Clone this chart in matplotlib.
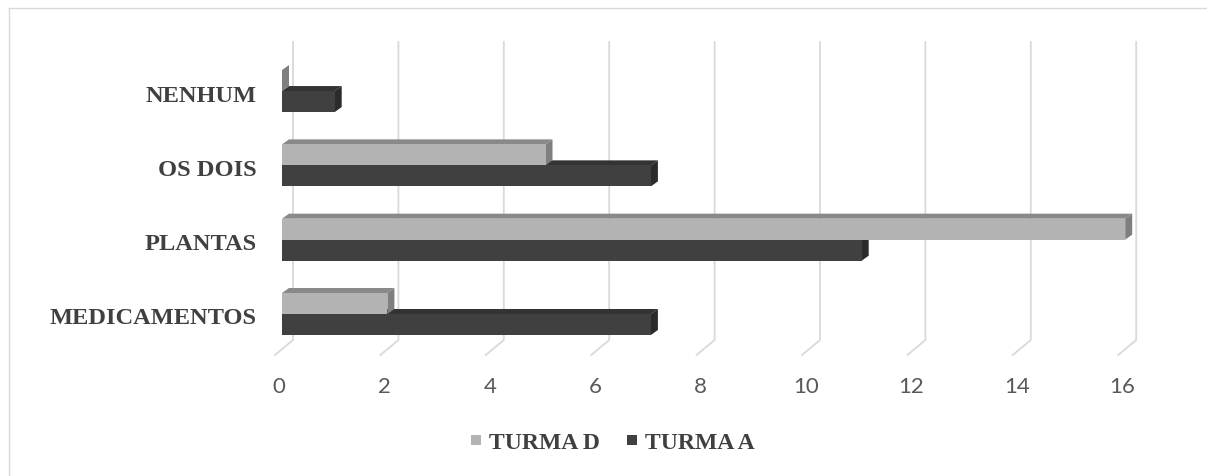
import matplotlib.pyplot as plt
import matplotlib.transforms as mtransforms
from matplotlib.patches import Polygon
from matplotlib.lines import Line2D

# Data
categories = ['MEDICAMENTOS', 'PLANTAS', 'OS DOIS', 'NENHUM']
turma_d = [2, 16, 5, 0]
turma_a = [7, 11, 7, 1]
x_ticks = [0, 2, 4, 6, 8, 10, 12, 14, 16]

W, H = 1207, 477
fig = plt.figure(figsize=(W / 100, H / 100), dpi=100)

# axes placed so that the front plane of the bars lines up with the reference
ax = fig.add_axes([282 / W, 1 - 341 / H, 843.2 / W, 298 / H])
ax.set_xlim(0, 16)
ax.set_ylim(-0.35, 3.66)
ax.axis('off')

px_x = 843.2 / 16      # pixels per x unit
px_y = 298 / 4.01      # pixels per category unit
dx = 7 / px_x          # bar depth (x)
dy = 5 / px_y          # bar depth (y)
bar_h = 21 / px_y

grid_col = '#d9d9d9'
# gridlines on the back wall + floor
for v in x_ticks:
    ax.plot([v + 11 / px_x, v + 11 / px_x, v - 7 / px_x],
            [3.66, -0.35, -0.35 - 15 / px_y],
            color=grid_col, lw=1.3, clip_on=False, zorder=1)


def bar3d(y0, val, front, top, side, z):
    ax.barh(y0 + bar_h / 2, val, height=bar_h, left=0, color=front,
            edgecolor='none', zorder=z + 0.2, clip_on=False)
    ax.add_patch(Polygon([(0, y0 + bar_h), (val, y0 + bar_h),
                          (val + dx, y0 + bar_h + dy), (dx, y0 + bar_h + dy)],
                         closed=True, facecolor=top, edgecolor='none',
                         zorder=z, clip_on=False))
    ax.add_patch(Polygon([(val, y0), (val + dx, y0 + dy),
                          (val + dx, y0 + bar_h + dy), (val, y0 + bar_h)],
                         closed=True, facecolor=side, edgecolor='none',
                         zorder=z + 0.1, clip_on=False))


for i in range(len(categories)):
    bar3d(i - bar_h, turma_a[i], '#404040', '#333333', '#2b2b2b', 2)
    bar3d(i, turma_d[i], '#b3b3b3', '#898989', '#7f7f7f', 3)

# x tick labels under the floor
for v in x_ticks:
    off = mtransforms.ScaledTranslation(-3 / 100, -46 / 100, fig.dpi_scale_trans)
    ax.text(v, -0.35, str(v), transform=ax.transData + off,
            ha='center', va='center', fontsize=16, family='Lato', color='#595959')

# category labels
for i, name in enumerate(categories):
    off = mtransforms.ScaledTranslation(-25 / 100, -4 / 100, fig.dpi_scale_trans)
    ax.text(0, i, name, transform=ax.transData + off, ha='right', va='center',
            fontsize=17.6, family='Liberation Serif', weight='bold', color='#404040')

# legend
handles = [Line2D([], [], ls='none', marker='s', markersize=7.9, markeredgewidth=0,
                  color='#b3b3b3', label='TURMA D'),
           Line2D([], [], ls='none', marker='s', markersize=7.9, markeredgewidth=0,
                  color='#404040', label='TURMA A')]
fig.legend(handles=handles, loc='center', ncol=2, frameon=False,
           bbox_to_anchor=(612.5 / W, 1 - 443.5 / H),
           prop={'family': 'Liberation Serif', 'weight': 'bold', 'size': 17},
           labelcolor='#404040', handlelength=0.47, handletextpad=0.34,
           columnspacing=1.1)

# outer chart frame (left and top edges only)
fig.add_artist(Line2D([8.5 / W, 8.5 / W], [0, 1 - 9 / H], color=grid_col, lw=1))
fig.add_artist(Line2D([8.5 / W, 1], [1 - 9 / H, 1 - 9 / H], color=grid_col, lw=1))

fig.savefig('out.png', dpi=100)
